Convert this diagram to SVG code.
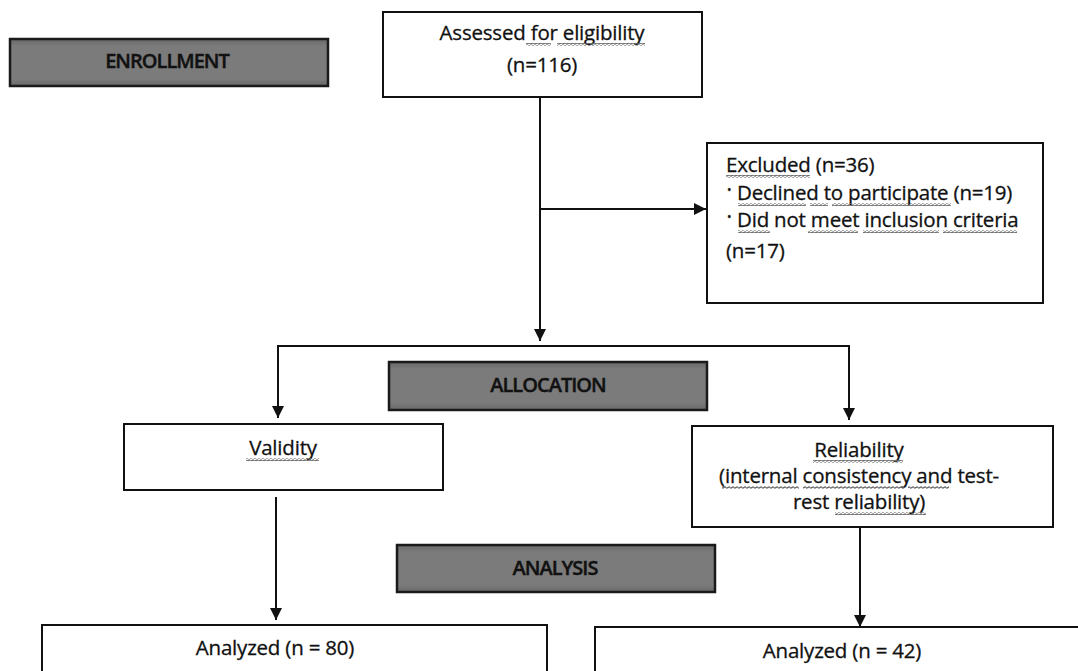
<svg xmlns="http://www.w3.org/2000/svg" width="1078" height="671" viewBox="0 0 1078 671">
<style>
.box{fill:#fff;stroke:#111;stroke-width:2}
.hdr{fill:url(#g);stroke:#1a1a1a;stroke-width:2.5}
.t{font-family:"Open Sans","Noto Sans",sans-serif;font-size:20.5px;fill:#111;stroke:#111;stroke-width:0.3;letter-spacing:-0.2px}
.h{font-family:"Open Sans","Noto Sans",sans-serif;font-size:20px;font-weight:600;fill:#111;stroke:#111;stroke-width:0.4;letter-spacing:-1px}
.c{text-anchor:middle}
.ln{stroke:#111;stroke-width:2;fill:none}
.sq{fill:url(#w)}
</style>
<defs>
<linearGradient id="g" x1="0" y1="0" x2="0" y2="1">
<stop offset="0" stop-color="#686868"/><stop offset="0.15" stop-color="#7b7b7b"/><stop offset="0.85" stop-color="#7b7b7b"/><stop offset="1" stop-color="#686868"/>
</linearGradient>
<pattern id="w" width="4" height="3" patternUnits="userSpaceOnUse">
<path d="M0,2 Q1,0 2,1.5 T4,1" fill="none" stroke="#666" stroke-width="1.1"/>
</pattern>
<marker id="a" viewBox="0 0 10 10" refX="10" refY="5" markerWidth="6" markerHeight="6" markerUnits="strokeWidth" orient="auto">
<path d="M0,0 L10,5 L0,10 z" fill="#111"/>
</marker>
</defs>
<rect width="1078" height="671" fill="#fff"/>

<g id="connectors">
<line class="ln" x1="540" y1="97" x2="540" y2="341" marker-end="url(#a)"/>
<line class="ln" x1="540" y1="209" x2="706" y2="209" marker-end="url(#a)"/>
<line class="ln" x1="278" y1="346" x2="850" y2="346"/>
<line class="ln" x1="278" y1="345" x2="278" y2="418" marker-end="url(#a)"/>
<line class="ln" x1="849" y1="345" x2="849" y2="420" marker-end="url(#a)"/>
<line class="ln" x1="276" y1="497" x2="276" y2="620" marker-end="url(#a)"/>
<line class="ln" x1="860" y1="528" x2="860" y2="627" marker-end="url(#a)"/>
</g>

<g id="enrollment">
<rect class="hdr" x="10" y="39" width="318" height="47"/>
<text class="h c" x="167" y="68">ENROLLMENT</text>
</g>

<g id="assessed">
<rect class="box" x="383" y="12" width="319" height="85"/>
<text class="t c" x="542" y="40">Assessed for eligibility</text>
<text class="t c" x="542" y="72">(n=116)</text>
<rect class="sq" x="526" y="43" width="25" height="3"/>
<rect class="sq" x="557" y="43" width="88" height="3"/>
</g>

<g id="excluded">
<rect class="box" x="707" y="143" width="336" height="160"/>
<text class="t" x="726" y="172">Excluded (n=36)</text>
<text class="t" y="200"><tspan x="727" font-size="12" dy="-6">•</tspan><tspan x="737" dy="6">Declined to participate (n=19)</tspan></text>
<text class="t" y="227"><tspan x="727" font-size="12" dy="-6">•</tspan><tspan x="737" dy="6">Did not meet inclusion criteria</tspan></text>
<text class="t" x="726" y="258">(n=17)</text>
<rect class="sq" x="726" y="175" width="84" height="3"/>
<rect class="sq" x="738" y="203" width="68" height="3"/>
<rect class="sq" x="810" y="203" width="18" height="3"/>
<rect class="sq" x="832" y="203" width="119" height="3"/>
<rect class="sq" x="738" y="230" width="32" height="3"/>
<rect class="sq" x="808" y="230" width="50" height="3"/>
<rect class="sq" x="863" y="230" width="76" height="3"/>
<rect class="sq" x="943" y="230" width="74" height="3"/>
</g>

<g id="allocation">
<rect class="hdr" x="389" y="362" width="318" height="48"/>
<text class="h c" x="548" y="392">ALLOCATION</text>
</g>

<g id="validity">
<rect class="box" x="124" y="424" width="319" height="66"/>
<text class="t c" x="283" y="455">Validity</text>
<rect class="sq" x="246" y="458" width="73" height="3"/>
</g>

<g id="reliability">
<rect class="box" x="692" y="426" width="361" height="101"/>
<text class="t c" x="859" y="457">Reliability</text>
<text class="t c" x="859" y="483">(internal consistency and test-</text>
<text class="t c" x="859" y="509">rest reliability)</text>
<rect class="sq" x="813" y="460" width="90" height="3"/>
<rect class="sq" x="722" y="486" width="77" height="3"/>
<rect class="sq" x="803" y="486" width="101" height="3"/>
<rect class="sq" x="908" y="486" width="41" height="3"/>
<rect class="sq" x="835" y="512" width="91" height="3"/>
</g>

<g id="analysis">
<rect class="hdr" x="397" y="545" width="318" height="47"/>
<text class="h c" x="555" y="575">ANALYSIS</text>
</g>

<g id="analyzed-validity">
<rect class="box" x="42" y="625" width="505" height="60"/>
<text class="t c" x="275" y="655">Analyzed (n = 80)</text>
</g>

<g id="analyzed-reliability">
<rect class="box" x="595" y="627" width="500" height="60"/>
<text class="t c" x="842" y="658">Analyzed (n = 42)</text>
</g>
</svg>
